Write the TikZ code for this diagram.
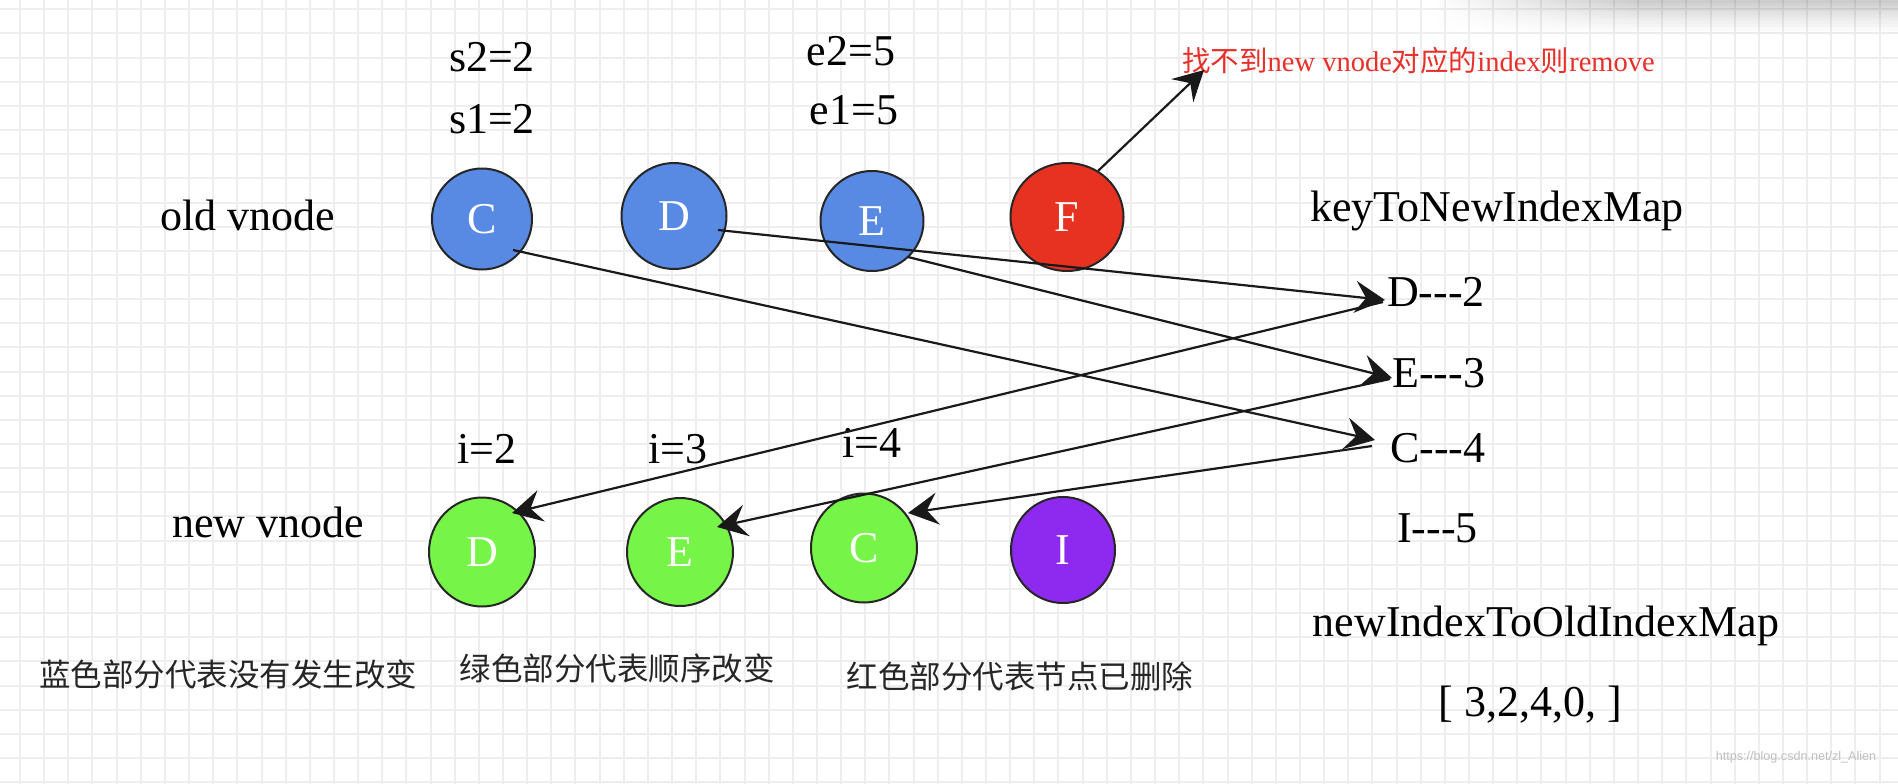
\documentclass[tikz,border=0pt]{standalone}
\usepackage{fontspec}
\setmainfont{Liberation Serif}
\newfontfamily\cjk{Noto Sans CJK SC}
\newfontfamily\wmfont{Liberation Sans}
\usetikzlibrary{shapes.geometric,arrows.meta,calc,fadings}
\definecolor{oldblue}{RGB}{88,138,228}
\definecolor{newgreen}{RGB}{118,245,72}
\definecolor{delred}{RGB}{232,50,33}
\definecolor{newpurple}{RGB}{142,42,240}
\definecolor{notered}{RGB}{232,48,42}
\definecolor{gridgray}{RGB}{238,238,238}
\tikzfading[name=shadowfade, left color=transparent!100, right color=transparent!0]
\newcommand{\tdash}{-\kern0pt-\kern0pt-}
\begin{document}
\begin{tikzpicture}[x=1pt,y=-1pt,
  lab/.style={font=\fontsize{44}{50}\selectfont, inner sep=0pt, text=black},
  vnode/.style={ellipse, draw=black!85, line width=2pt, inner sep=0pt, text=white, font=\fontsize{44}{50}\selectfont},
  cn/.style={font=\cjk\fontsize{31.5}{36}\selectfont, inner sep=0pt, text=black!85},
  arr/.style={draw=black!90, line width=2.2pt, -{Stealth[length=30pt, width=32pt, inset=11pt]}},
  gridline/.style={gridgray, line width=2pt},
]
\useasboundingbox (0,0) rectangle (1898,784);
\fill[white] (0,0) rectangle (1898,784);
\foreach \gx in {20,44.15,...,1898} \draw[gridline] (\gx,0) -- (\gx,784);
\foreach \gy in {9.3,33.45,...,784} \draw[gridline] (0,\gy) -- (1898,\gy);
% top-right shadow
\foreach \i in {0,...,11} {
  \pgfmathsetmacro\op{0.2*(1-\i/12)^1.5}
  \fill[black, opacity=\op, path fading=shadowfade] (1430,{3*\i}) rectangle (1640,{3*\i+3});
  \fill[black, opacity=\op] (1640,{3*\i}) rectangle (1898,{3*\i+3});
}

% labels
\node[lab, anchor=base] (s2) at (492,72) {s2=2};
\node[lab, anchor=base] (s1) at (492,133) {s1=2};
\node[lab, anchor=base] (e2) at (851,66) {e2=5};
\node[lab, anchor=base] (e1) at (854,124) {e1=5};
\node[lab, anchor=base] (oldl) at (248,230) {old vnode};
\node[lab, anchor=base] (newl) at (268,537) {new vnode};
\node[lab, anchor=base] (i2) at (487,463) {i=2};
\node[lab, anchor=base] (i3) at (678,463) {i=3};
\node[lab, anchor=base] (i4) at (872,457) {i=4};

% old vnodes
\node[vnode, fill=oldblue, minimum width=100pt, minimum height=101pt] (oC) at (482,219) {C};
\node[vnode, fill=oldblue, minimum width=105pt, minimum height=106pt] (oD) at (674,216) {D};
\node[vnode, fill=oldblue, minimum width=103pt, minimum height=100pt] (oE) at (872,221) {E};
\node[vnode, fill=delred, minimum width=113pt, minimum height=108pt] (oF) at (1067,217) {F};

% new vnodes
\node[vnode, fill=newgreen, minimum width=106pt, minimum height=109pt] (nD) at (482,552) {D};
\node[vnode, fill=newgreen, minimum width=106pt, minimum height=108pt] (nE) at (680,552) {E};
\node[vnode, fill=newgreen, minimum width=106pt, minimum height=109pt] (nC) at (864,548) {C};
\node[vnode, fill=newpurple, minimum width=104pt, minimum height=106pt] (nI) at (1063,550) {I};

% maps
\node[lab, anchor=base] (ktn) at (1497,221) {keyToNewIndexMap};
\node[lab, anchor=base west] (k2) at (1387,306) {D\tdash2};
\node[lab, anchor=base west] (k3) at (1392,387) {E\tdash3};
\node[lab, anchor=base west] (k4) at (1390,462) {C\tdash4};
\node[lab, anchor=base west] (k5) at (1397,542) {I\tdash5};
\node[lab, anchor=base] (nto) at (1546,636) {newIndexToOldIndexMap};
\node[lab, anchor=base] (arrv) at (1530,716) {[ 3,2,4,0, ]};

% legend texts
\node[cn] (cb) at (228,674) {蓝色部分代表没有发生改变};
\node[cn] (cg) at (617,668) {绿色部分代表顺序改变};
\node[cn] (cr) at (1020,676) {红色部分代表节点已删除};

% note
\node[anchor=base west, inner sep=0pt, text=notered, font=\fontsize{28.5}{32}\selectfont] (note) at (1182,72) {{\cjk 找不到}new vnode{\cjk 对应的}index{\cjk 则}remove};
\node[font=\wmfont\fontsize{12.6}{14}\selectfont, text=black!25, inner sep=0pt] (wm) at (1796,757) {https://blog.csdn.net/zl\_Alien};

% connectors
\coordinate (tipnote) at (1204,70);
\draw[arr] (oF.56) -- (tipnote);
\draw[arr] ($(oC)+(31,31)$) -- ($(k4.base west)+(-15,-22)$);
\draw[arr] ($(oD)+(44,14)$) -- ($(k2.base west)+(-2,-6)$);
\draw[arr] ($(oE)+(36,36)$) -- ($(k3.base west)+(0,-9)$);
\draw[arr] ($(k2.base west)+(-4,-4)$) -- ($(nD)+(30,-39)$);
\draw[arr] ($(k3.base west)+(-2,-8)$) -- ($(nE)+(37,-25)$);
\draw[arr] ($(k4.base west)+(-18,-16)$) -- ($(nC)+(44,-35)$);
\end{tikzpicture}
\end{document}
